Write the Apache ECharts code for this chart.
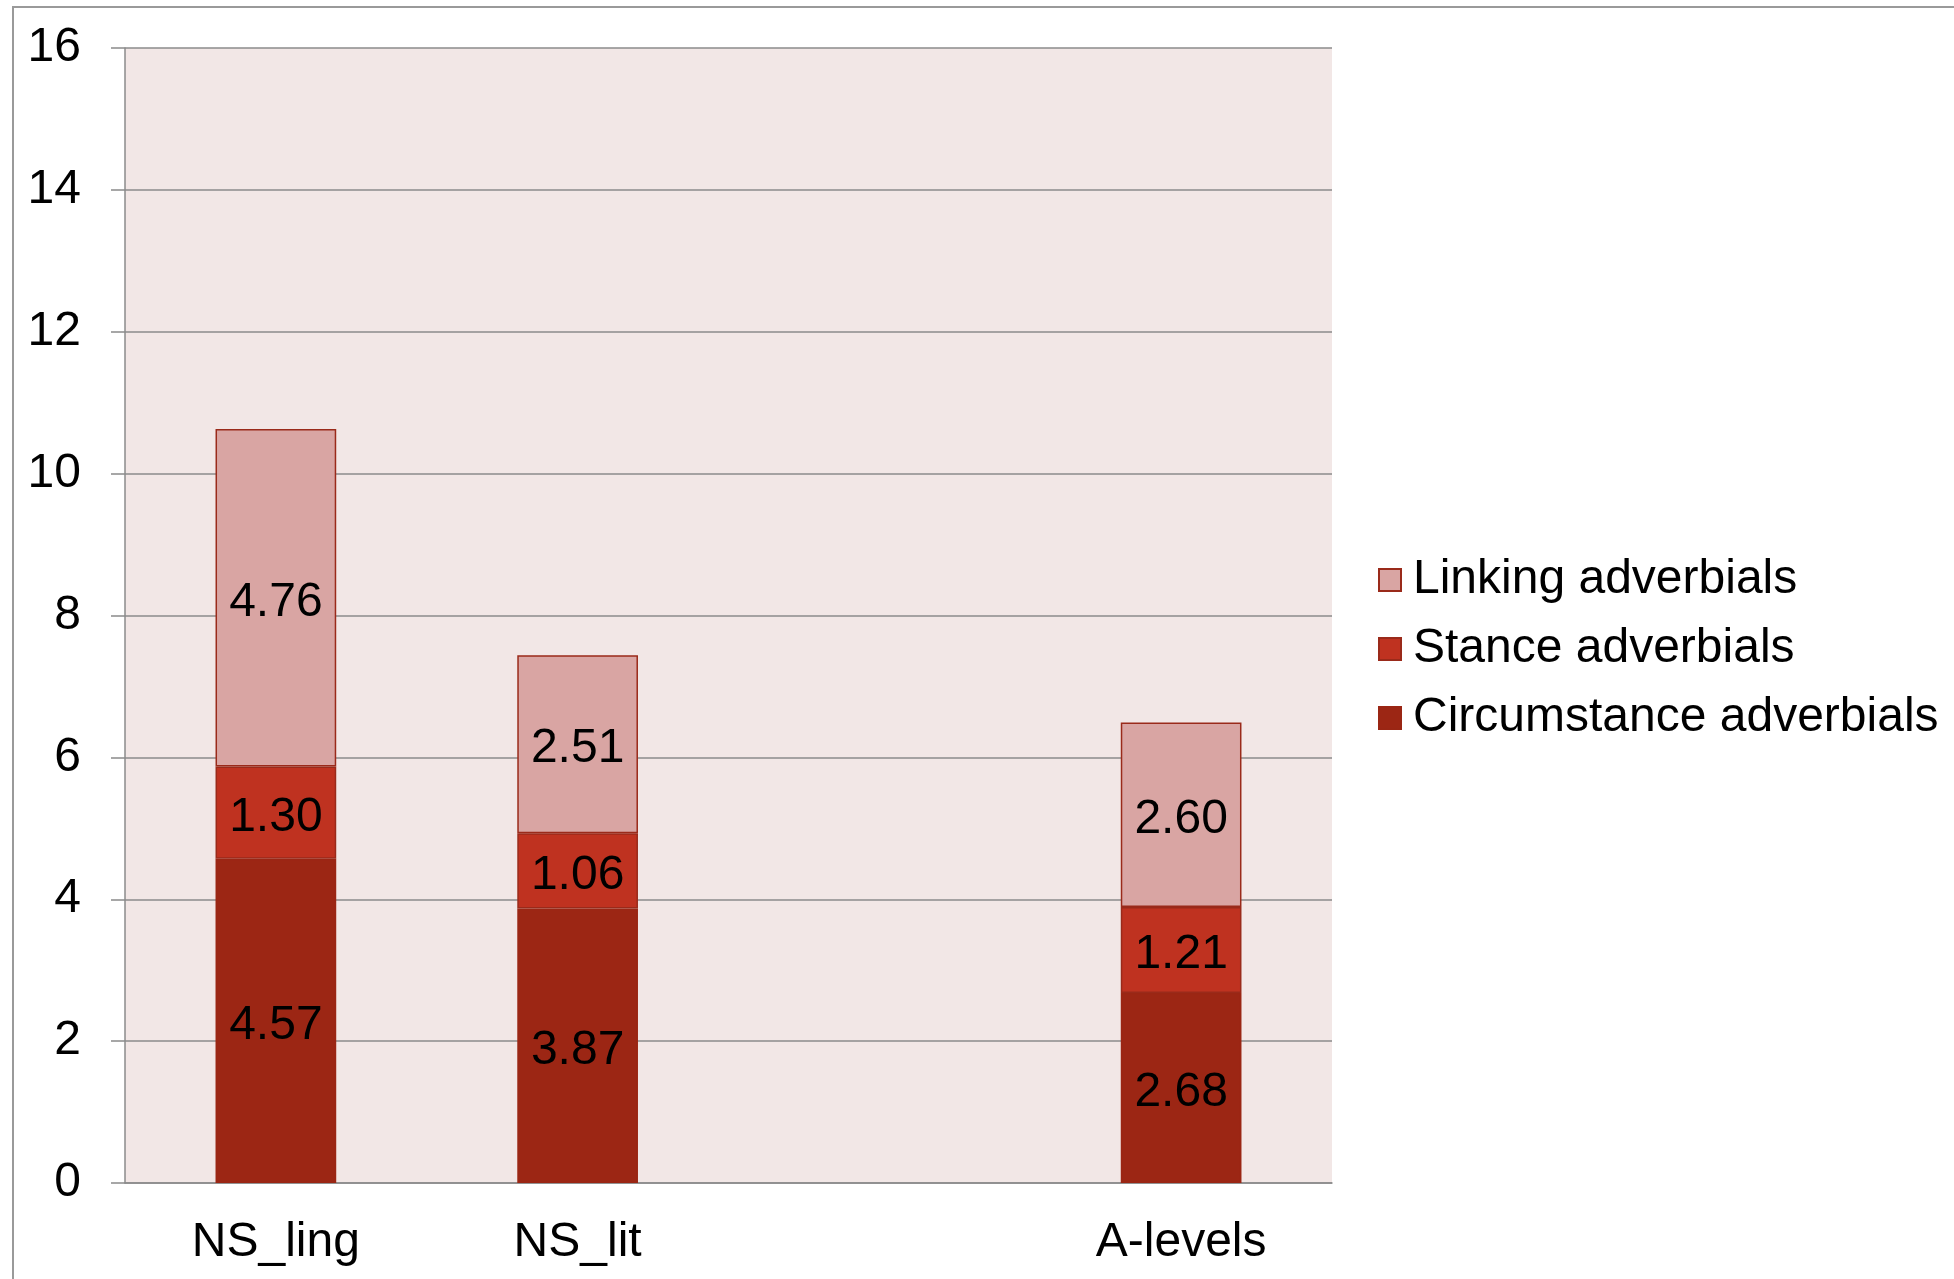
<!DOCTYPE html>
<html>
<head>
<meta charset="utf-8">
<title>Adverbials per text group</title>
<script src="https://cdn.jsdelivr.net/npm/echarts@6/dist/echarts.min.js"></script>
<style>
  html, body { margin: 0; padding: 0; background: #ffffff; }
  #chart { width: 1954px; height: 1279px; }
</style>
</head>
<body>
<div id="chart"></div>
<script>
// Text groups on the x axis (the third slot is left empty as a spacer)
const categories = ['NS_ling', 'NS_lit', '', 'A-levels'];

// Frequencies per adverbial type, stacked bottom to top
const circumstance = [4.57, 3.87, null, 2.68];
const stance       = [1.30, 1.06, null, 1.21];
const linking      = [4.76, 2.51, null, 2.60];

const yTicks = { min: 0, max: 16, interval: 2 };

const FONT = '"Liberation Sans", Arial, sans-serif';
const FONT_SIZE = 48;
const GRID_GREY = '#8b8b8b';
const EDGE_RED = '#9a2a1a';

function segment(name, values, fill, edge) {
  return {
    name: name,
    type: 'bar',
    stack: 'total',
    data: values,
    barWidth: '40%',
    itemStyle: { color: fill, borderColor: edge, borderWidth: 1.5 },
    label: {
      show: true,
      position: 'inside',
      offset: [0, 5],
      color: '#000000',
      fontFamily: FONT,
      fontSize: FONT_SIZE,
      formatter: p => (p.value == null ? '' : Number(p.value).toFixed(2))
    },
    emphasis: { disabled: true }
  };
}

const chart = echarts.init(document.getElementById('chart'), null, { renderer: 'canvas' });

chart.setOption({
  animation: false,
  backgroundColor: '#ffffff',
  textStyle: { fontFamily: FONT },
  graphic: [{
    type: 'rect',
    shape: { x: 13, y: 7, width: 2000, height: 1400 },
    style: { fill: 'none', stroke: '#9a9a9a', lineWidth: 2 },
    silent: true,
    z: -10
  }],
  grid: {
    left: 125, top: 48, right: 622, bottom: 96,
    show: true,
    backgroundColor: '#f2e7e6',
    borderWidth: 0
  },
  legend: {
    orient: 'vertical',
    left: 1373,
    top: 551,
    itemWidth: 22,
    itemHeight: 22,
    itemGap: 21,
    icon: 'rect',
    data: ['Linking adverbials', 'Stance adverbials', 'Circumstance adverbials'],
    textStyle: { color: '#000000', fontFamily: FONT, fontSize: FONT_SIZE, padding: [0, 0, 0, 7] }
  },
  xAxis: {
    type: 'category',
    data: categories,
    axisLine: { show: true, lineStyle: { color: GRID_GREY, width: 1.5 } },
    axisTick: { show: false },
    axisLabel: { color: '#000000', fontFamily: FONT, fontSize: FONT_SIZE, margin: 36 },
    splitLine: { show: false }
  },
  yAxis: {
    type: 'value',
    min: yTicks.min,
    max: yTicks.max,
    interval: yTicks.interval,
    axisLine: { show: true, lineStyle: { color: GRID_GREY, width: 1.5 } },
    axisTick: { show: true, inside: false, length: 14, lineStyle: { color: GRID_GREY, width: 1.5 } },
    axisLabel: { color: '#000000', fontFamily: FONT, fontSize: FONT_SIZE, margin: 44, padding: [10, 0, 0, 0] },
    splitLine: { show: true, lineStyle: { color: GRID_GREY, width: 1.5 } }
  },
  series: [
    segment('Circumstance adverbials', circumstance, '#9c2614', '#9a2614'),
    segment('Stance adverbials', stance, '#bf3220', EDGE_RED),
    segment('Linking adverbials', linking, '#d9a5a3', EDGE_RED)
  ]
});
</script>
</body>
</html>
